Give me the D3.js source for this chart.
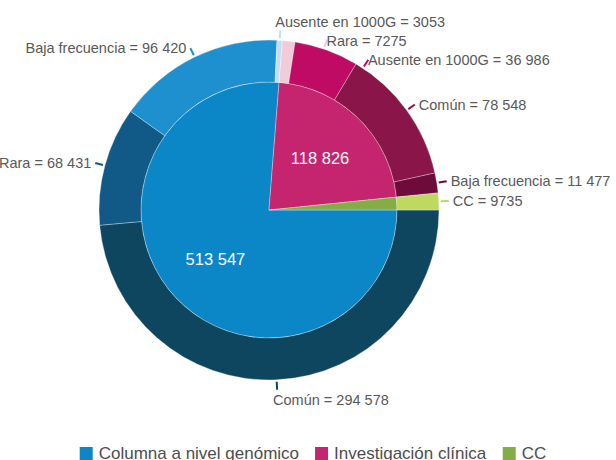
<!DOCTYPE html>
<html>
<head>
<meta charset="utf-8">
<script src="https://cdn.jsdelivr.net/npm/d3@7"></script>
<style>
  body { margin: 0; background: #fff; }
  text { font-family: "Liberation Sans", Arial, Helvetica, sans-serif; }
</style>
</head>
<body>
<div id="chart"></div>
<script>
// DATA
const categories = ["Columna a nivel genómico", "Investigación clínica", "CC"];
const categoryTotals = [513547, 118826, 9735];   // numbers printed on inner slices

const subNames = ["Común", "Rara", "Baja frecuencia", "Ausente en 1000G",
                  "Rara", "Ausente en 1000G", "Común", "Baja frecuencia", "CC"];
const subValues = [294578, 68431, 96420, 3053, 7275, 36986, 78548, 11477, 9735];
const subParent = [0, 0, 0, 0, 1, 1, 1, 1, 2];

// COLOURS
const innerColors = ["#0b87c8", "#c5246e", "#84ae45"];
const outerColors = ["#0e4660", "#115a87", "#1e8fcf", "#c6dcf0",
                     "#f0ccd8", "#c00b64", "#8a1649", "#6e0b3a", "#bdd95f"];

// LAYOUT
const width = 616, height = 460;
const cx = 269, cy = 210;
const rInner = 128, rOuter = 170;

const svg = d3.select("#chart").append("svg")
  .attr("width", width)
  .attr("height", height);

const g = svg.append("g").attr("transform", `translate(${cx}, ${cy})`);

// spanish style number: groups only from 5 digits up
const fmt = v => v >= 10000 ? d3.format(",")(v).replace(/,/g, " ") : String(v);

const outerData = subValues.map((v, i) => ({ name: subNames[i], value: v, parent: subParent[i], i }));
// inner slices are drawn from the sums of their sub slices
const innerData = categories.map((c, i) => ({
  name: c, i,
  value: d3.sum(outerData.filter(d => d.parent === i), d => d.value),
  label: categoryTotals[i]
}));

const pie = d3.pie()
  .sort(null)
  .value(d => d.value)
  .startAngle(Math.PI / 2)
  .endAngle(Math.PI / 2 + 2 * Math.PI);

const innerArcs = pie(innerData);
const outerArcs = pie(outerData);

const innerArc = d3.arc().innerRadius(0).outerRadius(rInner);
const outerArc = d3.arc().innerRadius(rInner).outerRadius(rOuter);

g.selectAll("path.inner")
  .data(innerArcs)
  .join("path")
  .attr("class", "inner")
  .attr("d", innerArc)
  .attr("fill", d => innerColors[d.data.i])
  .attr("stroke", "#fff")
  .attr("stroke-width", 0.5)
  .attr("stroke-opacity", 0.6);

g.selectAll("path.outer")
  .data(outerArcs)
  .join("path")
  .attr("class", "outer")
  .attr("d", outerArc)
  .attr("fill", d => outerColors[d.data.i])
  .attr("stroke", "#fff")
  .attr("stroke-width", 0.5)
  .attr("stroke-opacity", 0.6);

// inner labels (only slices big enough)
const innerLabelArc = d3.arc().innerRadius(rInner * 0.57).outerRadius(rInner * 0.57);
g.selectAll("text.inner-label")
  .data(innerArcs.filter(d => d.endAngle - d.startAngle > 0.3))
  .join("text")
  .attr("class", "inner-label")
  .attr("transform", d => `translate(${innerLabelArc.centroid(d)})`)
  .attr("text-anchor", "middle")
  .attr("dy", "0.35em")
  .attr("fill", "#fff")
  .style("font-size", "16.5px")
  .text(d => fmt(d.data.label));

// outer labels: start at mid angle, then spread so they don't overlap
const labels = outerArcs.map(d => {
  const a = (d.startAngle + d.endAngle) / 2;
  const s = Math.sin(a), c = -Math.cos(a);
  const tip = [s * (rOuter + 10), c * (rOuter + 10)];
  const right = s >= 0;
  let x, y, anchor, pos;
  if (c > 0.97) {                               // bottom
    pos = "bottom"; x = tip[0] - 4; y = tip[1] + 10; anchor = "start";
  } else if (c < -0.97) {                       // top
    pos = "top"; x = tip[0] - 5; y = tip[1] - 8; anchor = right ? "start" : "end";
  } else {
    pos = "side"; x = right ? tip[0] + 4 : tip[0] - 4; y = tip[1];
    anchor = right ? "start" : "end";
  }
  return { d, a, x, y, anchor, right, pos };
});

[true, false].forEach(side => {
  const list = labels.filter(l => l.right === side && l.pos !== "bottom").sort((a, b) => a.y - b.y);
  for (let k = 1; k < list.length; k++) {
    const l = list[k];
    if (l.y - list[k - 1].y < 19) {
      l.y = list[k - 1].y + 19;
      // keep the moved label clear of the ring (check its lower edge)
      const yy = Math.abs(l.y) - 6;
      if (yy < rOuter) {
        const edge = Math.sqrt(rOuter * rOuter - yy * yy) + 8;
        l.x = side ? Math.max(l.x, edge) : Math.min(l.x, -edge);
      }
      l.a = Math.atan2(side ? l.x : -l.x, -l.y);
      if (!side) l.a = -l.a;
    }
  }
});

// short radial ticks pointing at each label
g.selectAll("line.connector")
  .data(labels)
  .join("line")
  .attr("class", "connector")
  .attr("x1", l => Math.sin(l.a) * (rOuter + 2))
  .attr("y1", l => -Math.cos(l.a) * (rOuter + 2))
  .attr("x2", l => Math.sin(l.a) * (rOuter + 10))
  .attr("y2", l => -Math.cos(l.a) * (rOuter + 10))
  .attr("stroke", l => outerColors[l.d.data.i])
  .attr("stroke-width", 2);

g.selectAll("text.outer-label")
  .data(labels)
  .join("text")
  .attr("class", "outer-label")
  .attr("x", l => l.x)
  .attr("y", l => l.y)
  .attr("dy", "0.35em")
  .attr("text-anchor", l => l.anchor)
  .attr("fill", "#595959")
  .style("font-size", "14.5px")
  .text(l => `${l.d.data.name} = ${fmt(l.d.data.value)}`);

// legend
const legend = svg.append("g");
const items = legend.selectAll("g")
  .data(categories)
  .join("g");

items.append("rect")
  .attr("y", 447)
  .attr("width", 13)
  .attr("height", 13)
  .attr("fill", (d, i) => innerColors[i]);

items.append("text")
  .attr("x", 19)
  .attr("y", 459)
  .attr("fill", "#4d4d4d")
  .style("font-size", "17px")
  .text(d => d);

let offset = 0;
items.each(function () {
  const w = this.getBBox().width;
  d3.select(this).attr("transform", `translate(${offset}, 0)`);
  offset += w + 16;
});
offset -= 16;
legend.attr("transform", `translate(${(width - offset) / 2 + 5}, 0)`);
</script>
</body>
</html>
